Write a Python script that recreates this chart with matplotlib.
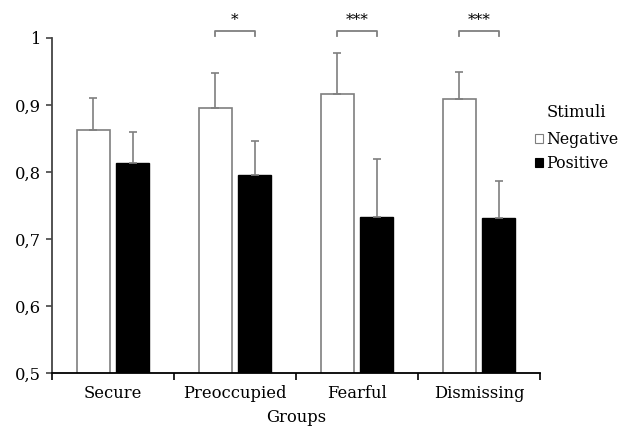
import matplotlib
matplotlib.use("Agg")
import matplotlib.pyplot as plt
import numpy as np

groups = ["Secure", "Preoccupied", "Fearful", "Dismissing"]
negative = [0.863, 0.896, 0.917, 0.909]
negative_err = [0.047, 0.052, 0.060, 0.041]
positive = [0.814, 0.796, 0.733, 0.732]
positive_err = [0.045, 0.050, 0.086, 0.055]
sig_groups = [1, 2, 3]
sig_labels = ["*", "***", "***"]
yticks = [0.5, 0.6, 0.7, 0.8, 0.9, 1.0]
ytick_labels = ["0,5", "0,6", "0,7", "0,8", "0,9", "1"]

plt.rcParams['font.family'] = ['DejaVu Serif']
fs = 11.8

fig = plt.figure(figsize=(6.19, 4.28), dpi=100)
ax = fig.add_axes([52/619, 55/428, (540-52)/619, (373-4.5)/428])

x = np.arange(len(groups))
w = 0.27
off = 0.16
grey = "#7f7f7f"
ax.bar(x - off, negative, w, bottom=0, color="white", edgecolor=grey, linewidth=1.2,
       label="Negative", zorder=2)
ax.bar(x + off, positive, w, color="black", edgecolor="black", linewidth=1.0,
       label="Positive", zorder=2)
ax.errorbar(x - off, negative, yerr=[np.zeros(4), negative_err], fmt="none",
            ecolor=grey, elinewidth=1.2, capsize=3, capthick=1.2, zorder=3)
ax.errorbar(x + off, positive, yerr=[np.zeros(4), positive_err], fmt="none",
            ecolor=grey, elinewidth=1.2, capsize=3, capthick=1.2, zorder=3)

for g, lab in zip(sig_groups, sig_labels):
    ax.plot([g - off, g - off, g + off, g + off], [1.003, 1.0105, 1.0105, 1.003],
            color=grey, lw=1.3, clip_on=False)
    ax.text(g, 1.016, lab, ha="center", va="bottom", fontsize=11)

ax.set_ylim(0.5, 1.05)
ax.set_xlim(-0.5, 3.5)
ax.set_yticks(yticks)
ax.set_yticklabels(ytick_labels, fontsize=fs)
ax.set_xticks(x)
ax.set_xticklabels(groups, fontsize=fs)
ax.set_xticks(np.arange(-0.5, 4.0, 1.0), minor=True)
ax.tick_params(axis="x", which="major", length=0, pad=9)
ax.tick_params(axis="x", which="minor", length=5, width=1.2, direction="out")
ax.tick_params(axis="y", length=4, width=1.2, color="#444444", pad=4)
for s in ["top", "right"]:
    ax.spines[s].set_visible(False)
ax.spines["left"].set_bounds(0.5, 1.0)
ax.spines["left"].set_color("#444444")
ax.spines["left"].set_linewidth(1.3)
ax.spines["bottom"].set_linewidth(1.3)
ax.set_xlabel("Groups", fontsize=fs, labelpad=5)

leg = ax.legend(title="Stimuli", loc="upper left", bbox_to_anchor=(527/619, 1 - 99/428),
                bbox_transform=fig.transFigure, frameon=False, fontsize=11.3,
                title_fontsize=fs, handlelength=0.55, handleheight=0.55,
                handletextpad=0.15, labelspacing=0.45, borderpad=0)
leg.get_title().set_position((0, 3))
for h in leg.legend_handles:
    h.set_linewidth(0.8)
fig.savefig("out.png", dpi=100)
